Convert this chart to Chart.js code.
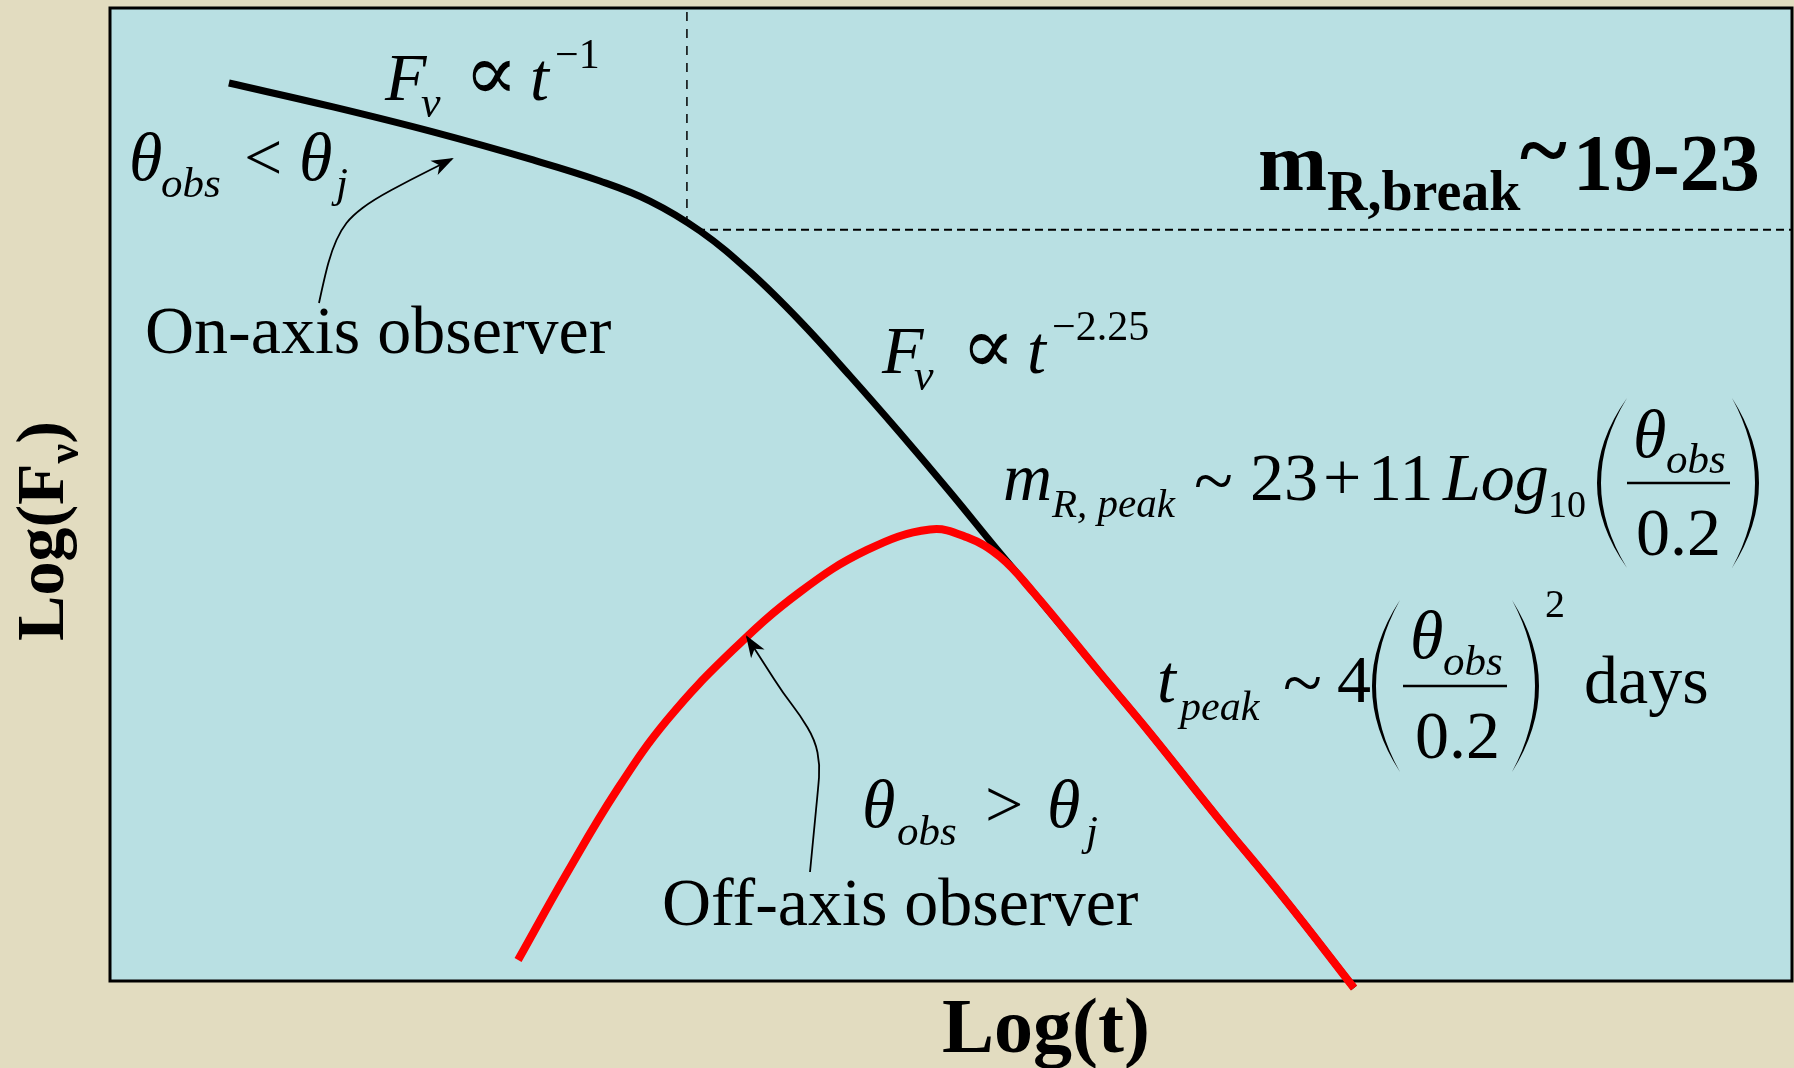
<!DOCTYPE html>
<html>
<head>
<meta charset="utf-8">
<script src="https://cdn.jsdelivr.net/npm/chart.js@4.4.0/dist/chart.umd.min.js"></script>
<style>
  html, body { margin: 0; padding: 0; background: #e2dcc0; }
  canvas { display: block; }
</style>
</head>
<body>
<canvas id="afterglow" width="1794" height="1068"></canvas>
<script>
// Jet afterglow light curves, Log(F) against Log(t), arbitrary units
const onAxisLogT = [0.707, 1.326, 1.920, 2.515, 2.913, 3.210, 3.508, 3.805, 4.102, 4.400, 4.697, 4.994, 5.291, 5.488, 5.886, 6.183, 6.582, 6.974, 7.396];
const onAxisLogF = [9.229, 8.983, 8.726, 8.438, 8.222, 8.016, 7.708, 7.287, 6.783, 6.218, 5.632, 5.026, 4.399, 3.998, 3.165, 2.549, 1.686, 0.863, -0.072];

const offAxisLogT = [2.426, 2.717, 3.014, 3.312, 3.704, 4.102, 4.501, 4.875, 5.095, 5.291, 5.488, 5.886, 6.183, 6.582, 6.974, 7.396];
const offAxisLogF = [0.216, 1.110, 1.963, 2.682, 3.402, 3.998, 4.430, 4.640, 4.560, 4.360, 3.998, 3.165, 2.549, 1.686, 0.863, -0.072];

// dashed guides at the jet break
const breakLogT = [3.43, 3.43];
const breakLogF = [9.96, 7.80];
const levelLogT = [3.49, 10.0];
const levelLogF = [7.72, 7.72];

const SERIF = "'Liberation Serif', 'Times New Roman', 'DejaVu Serif', serif";
const PLOT_BG = "#b9e0e3";
const PAGE_BG = "#e2dcc0";

const toPoints = (xs, ys) => xs.map((x, i) => ({ x: x, y: ys[i] }));

// [text, x, y, size, style]
const labels = [
  ["F", 385, 100, 68, "italic"],
  ["\u03bd", 421, 117, 44, "italic"],
  ["\u221d", 464, 100, 80, ""],
  ["t", 530, 100, 68, "italic"],
  ["\u22121", 555, 68, 42, ""],

  ["\u03b8", 129, 180, 68, "italic"],
  ["obs", 161, 197, 43, "italic"],
  ["<", 244, 180, 68, ""],
  ["\u03b8", 299, 180, 68, "italic"],
  ["j", 336, 197, 43, "italic"],
  ["On-axis observer", 145, 353, 68, ""],

  ["F", 882, 373, 68, "italic"],
  ["\u03bd", 914, 390, 44, "italic"],
  ["\u221d", 961, 373, 80, ""],
  ["t", 1027, 373, 68, "italic"],
  ["\u22122.25", 1052, 340, 42, ""],

  ["m", 1003, 500, 68, "italic"],
  ["R, peak", 1052, 517, 41, "italic"],
  ["~", 1194, 505, 72, ""],
  ["23", 1250, 500, 68, ""],
  ["+", 1323, 500, 68, ""],
  ["11", 1368, 500, 68, ""],
  ["Log", 1443, 500, 68, "italic"],
  ["10", 1548, 517, 38, ""],
  ["\u03b8", 1633, 457, 68, "italic"],
  ["obs", 1666, 473, 43, "italic"],
  ["0.2", 1636, 555, 68, ""],

  ["t", 1157, 702, 68, "italic"],
  ["peak", 1180, 720, 42, "italic"],
  ["~", 1283, 707, 72, ""],
  ["4", 1337, 702, 68, ""],
  ["\u03b8", 1410, 658, 68, "italic"],
  ["obs", 1443, 675, 43, "italic"],
  ["0.2", 1415, 758, 68, ""],
  ["2", 1545, 617, 40, ""],
  ["days", 1584, 703, 68, ""],

  ["\u03b8", 862, 827, 68, "italic"],
  ["obs", 897, 845, 43, "italic"],
  [">", 985, 827, 68, ""],
  ["\u03b8", 1047, 827, 68, "italic"],
  ["j", 1086, 845, 43, "italic"],
  ["Off-axis observer", 662, 925, 68, ""],

  ["m", 1258, 190, 83, "bold"],
  ["R,break", 1327, 210, 56, "bold"],
  ["~", 1520, 180, 90, "bold"],
  ["19-23", 1573, 190, 80, "bold"],
];

// fraction bars [x0, x1, y]
const fractionBars = [[1627, 1730, 483], [1403, 1507, 686]];
// tall brackets [x0, x1, top, bottom, side]
const brackets = [
  [1597, 1627, 398, 568, "left"], [1732, 1759, 398, 568, "right"],
  [1372, 1400, 600, 772, "left"], [1512, 1539, 600, 772, "right"],
];
// leader arrows, tail to tip
const leaders = [
  [[319, 303], [325, 275], [332, 250], [341, 230], [352, 216], [373, 200], [410, 180], [452, 159]],
  [[810, 872], [814, 830], [818, 790], [820, 765], [815, 740], [800, 715], [783, 693], [765, 665], [747, 637]],
];

const put = (ctx, text, x, y, size, style) => {
  ctx.font = `${style} ${size}px ${SERIF}`;
  ctx.fillText(text, x, y);
};

const drawBracket = (ctx, x0, x1, top, bottom, side) => {
  const mid = (top + bottom) / 2;
  const thick = 4;
  ctx.beginPath();
  if (side === "left") {
    ctx.moveTo(x1, top);
    ctx.quadraticCurveTo(2 * x0 - x1, mid, x1, bottom);
    ctx.quadraticCurveTo(2 * (x0 + thick) - x1, mid, x1, top);
  } else {
    ctx.moveTo(x0, top);
    ctx.quadraticCurveTo(2 * x1 - x0, mid, x0, bottom);
    ctx.quadraticCurveTo(2 * (x1 - thick) - x0, mid, x0, top);
  }
  ctx.fill();
};

const drawLeader = (ctx, pts) => {
  ctx.beginPath();
  ctx.moveTo(pts[0][0], pts[0][1]);
  for (let i = 1; i < pts.length - 1; i++) {
    const mx = (pts[i][0] + pts[i + 1][0]) / 2;
    const my = (pts[i][1] + pts[i + 1][1]) / 2;
    ctx.quadraticCurveTo(pts[i][0], pts[i][1], mx, my);
  }
  const tip = pts[pts.length - 1];
  const prev = pts[pts.length - 2];
  ctx.lineTo(tip[0], tip[1]);
  ctx.stroke();

  const a = Math.atan2(tip[1] - prev[1], tip[0] - prev[0]);
  ctx.save();
  ctx.translate(tip[0], tip[1]);
  ctx.rotate(a);
  ctx.beginPath();
  ctx.moveTo(2, 0);
  ctx.lineTo(-20, -8);
  ctx.lineTo(-14, 0);
  ctx.lineTo(-20, 8);
  ctx.closePath();
  ctx.fill();
  ctx.restore();
};

const framePlugin = {
  id: "frame",
  beforeDraw: (chart) => {
    const { ctx, chartArea: a } = chart;
    ctx.save();
    ctx.fillStyle = PAGE_BG;
    ctx.fillRect(0, 0, chart.width, chart.height);
    ctx.fillStyle = PLOT_BG;
    ctx.fillRect(a.left, a.top, a.right - a.left, a.bottom - a.top);
    ctx.restore();
  },
  beforeDatasetsDraw: (chart) => {
    const { ctx, chartArea: a } = chart;
    ctx.save();
    ctx.strokeStyle = "#000";
    ctx.lineWidth = 3;
    ctx.strokeRect(a.left, a.top, a.right - a.left, a.bottom - a.top);
    ctx.restore();
  },
};

const notesPlugin = {
  id: "notes",
  afterDraw: (chart) => {
    const ctx = chart.ctx;
    ctx.save();
    ctx.fillStyle = "#000";
    ctx.strokeStyle = "#000";
    ctx.textBaseline = "alphabetic";
    ctx.textAlign = "left";

    labels.forEach(([t, x, y, s, st]) => put(ctx, t, x, y, s, st));

    ctx.lineWidth = 2.5;
    fractionBars.forEach(([x0, x1, y]) => {
      ctx.beginPath();
      ctx.moveTo(x0, y);
      ctx.lineTo(x1, y);
      ctx.stroke();
    });
    brackets.forEach((b) => drawBracket(ctx, ...b));

    ctx.lineWidth = 1.8;
    leaders.forEach((pts) => drawLeader(ctx, pts));

    // axis titles
    ctx.textAlign = "center";
    put(ctx, "Log(t)", 1046, 1052, 78, "bold");

    ctx.textAlign = "left";
    ctx.translate(63, 531);
    ctx.rotate(-Math.PI / 2);
    ctx.font = `bold 68px ${SERIF}`;
    const w1 = ctx.measureText("Log(F").width;
    ctx.font = `bold 44px ${SERIF}`;
    const w2 = ctx.measureText("\u03bd").width;
    ctx.font = `bold 68px ${SERIF}`;
    const w3 = ctx.measureText(")").width;
    const x0 = -(w1 + w2 + w3) / 2;
    put(ctx, "Log(F", x0, 0, 68, "bold");
    put(ctx, "\u03bd", x0 + w1, 15, 44, "bold");
    put(ctx, ")", x0 + w1 + w2, 0, 68, "bold");
    ctx.restore();
  },
};

new Chart(document.getElementById("afterglow"), {
  type: "line",
  data: {
    datasets: [
      {
        data: toPoints(offAxisLogT, offAxisLogF),
        borderColor: "#ff0000",
        borderWidth: 8,
        tension: 0.4,
        pointRadius: 0,
        clip: false,
        order: 0,
      },
      {
        data: toPoints(onAxisLogT, onAxisLogF),
        borderColor: "#000000",
        borderWidth: 7,
        tension: 0.4,
        pointRadius: 0,
        clip: false,
        order: 1,
      },
      {
        data: toPoints(breakLogT, breakLogF),
        borderColor: "#000000",
        borderWidth: 1.5,
        borderDash: [9, 8],
        pointRadius: 0,
        order: 2,
      },
      {
        data: toPoints(levelLogT, levelLogF),
        borderColor: "#000000",
        borderWidth: 2,
        borderDash: [8, 5],
        pointRadius: 0,
        order: 2,
      },
    ],
  },
  options: {
    responsive: false,
    devicePixelRatio: 1,
    animation: false,
    layout: { padding: { left: 110, right: 2, top: 8, bottom: 87 } },
    plugins: { legend: { display: false }, tooltip: { enabled: false } },
    scales: {
      x: { type: "linear", min: 0, max: 10, display: false },
      y: { type: "linear", min: 0, max: 10, display: false },
    },
  },
  plugins: [framePlugin, notesPlugin],
});
</script>
</body>
</html>
